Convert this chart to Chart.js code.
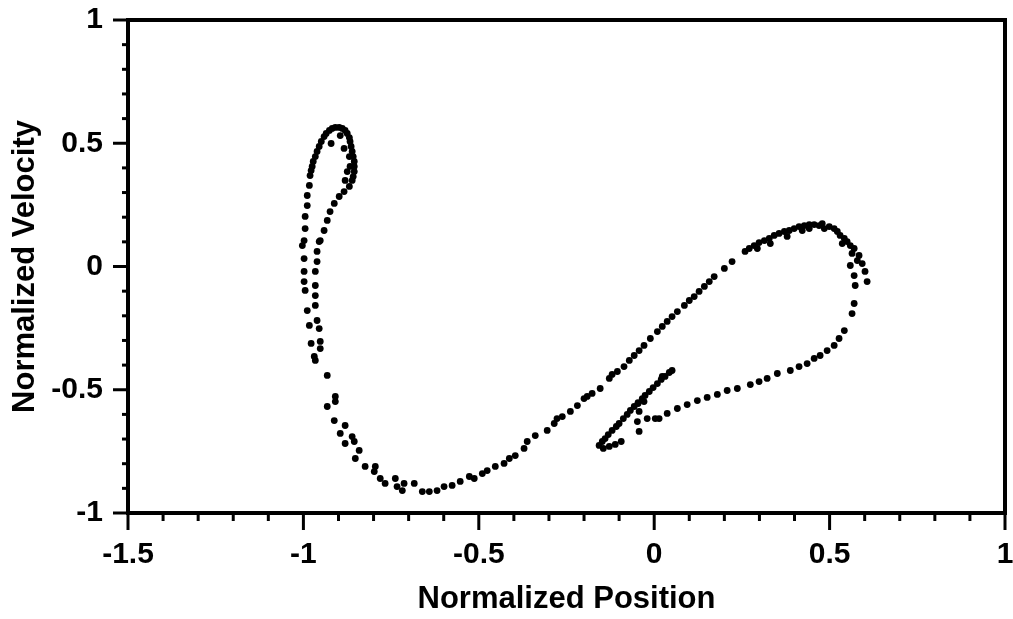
<!DOCTYPE html>
<html lang="en">
  <head>
    <meta charset="UTF-8" />
    <title>Normalized Phase Portrait</title>
    <script src="https://cdn.jsdelivr.net/npm/chart.js"></script>
    <style>
      body { margin: 0; background: #fff; }
      canvas { display: block; }
    </style>
  </head>
  <body>
    <canvas id="phaseChart" width="1013" height="619"></canvas>
    <script>
      // points, grouped by the part of the curve they belong to
      const leftLoopX = [-0.998, -0.995, -0.995, -0.989, -0.989, -0.983, -0.981, -0.975, -0.966, -0.955, -0.941, -0.926, -0.909, -0.889, -0.875, -0.867, -0.861, -0.855, -0.855, -0.861, -0.869, -0.884, -0.898, -0.912, -0.924, -0.932, -0.941, -0.952, -0.869, -0.875, -0.881, -0.895, -0.921, -0.884, -0.867, -0.949, -0.935, -0.918, -0.898, -0.881, -0.869, -0.864, -0.858, -0.855, -0.858, -0.961, -0.972, -0.978];
      const leftLoopY = [0.105, 0.154, 0.203, 0.247, 0.288, 0.329, 0.369, 0.406, 0.446, 0.487, 0.527, 0.552, 0.564, 0.56, 0.54, 0.507, 0.467, 0.426, 0.385, 0.349, 0.325, 0.304, 0.284, 0.256, 0.223, 0.187, 0.146, 0.105, 0.446, 0.385, 0.349, 0.531, 0.499, 0.479, 0.406, 0.507, 0.54, 0.56, 0.564, 0.552, 0.523, 0.487, 0.446, 0.406, 0.365, 0.467, 0.426, 0.389];

      const leftStrandsX = [-1.003, -0.998, -0.998, -0.998, -0.995, -0.989, -0.983, -0.978, -0.969, -0.955, -0.961, -0.961, -0.966, -0.966, -0.966, -0.966, -0.961, -0.955, -0.952, -0.952];
      const leftStrandsY = [0.085, 0.032, -0.02, -0.061, -0.097, -0.179, -0.239, -0.312, -0.365, 0.101, 0.061, 0.02, -0.02, -0.077, -0.118, -0.158, -0.219, -0.252, -0.304, -0.333];

      const bottomArcX = [-0.966, -0.932, -0.909, -0.909, -0.932, -0.912, -0.881, -0.895, -0.861, -0.881, -0.855, -0.841, -0.852, -0.824, -0.795, -0.798, -0.781, -0.767, -0.738, -0.733, -0.713, -0.718, -0.684, -0.661, -0.641, -0.619, -0.599, -0.576, -0.553, -0.527, -0.513, -0.49, -0.476, -0.453, -0.428, -0.413, -0.396, -0.371, -0.362, -0.339, -0.305, -0.285, -0.262, -0.239, -0.219, -0.2, -0.177, -0.154, -0.128, -0.105, -0.086, -0.277, -0.191, -0.12, -0.071];
      const bottomArcY = [-0.381, -0.442, -0.527, -0.548, -0.568, -0.625, -0.645, -0.677, -0.69, -0.718, -0.71, -0.746, -0.779, -0.811, -0.811, -0.832, -0.86, -0.88, -0.86, -0.893, -0.88, -0.909, -0.88, -0.913, -0.913, -0.909, -0.893, -0.888, -0.872, -0.852, -0.86, -0.84, -0.828, -0.811, -0.799, -0.779, -0.767, -0.738, -0.71, -0.686, -0.665, -0.637, -0.609, -0.588, -0.564, -0.536, -0.515, -0.495, -0.454, -0.426, -0.406, -0.617, -0.527, -0.438, -0.381];

      const upperBranchX = [-0.057, -0.029, -0.011, 0.009, 0.037, 0.066, 0.086, 0.114, 0.143, 0.171, 0.2, 0.222, 0.259, 0.285, 0.314, 0.342, 0.371, 0.399, 0.428, 0.456, 0.485, 0.513, 0.53, 0.55, 0.57, 0.584, 0.593, 0.601, 0.607, 0.379, 0.331, 0.294, 0.422, 0.479, 0.442, 0.536, 0.564, 0.579, 0.271, 0.299, 0.328, 0.356, 0.385, 0.413, 0.442, 0.47, 0.499, 0.522, 0.542, 0.559, -0.043, 0.023, 0.051, 0.1, 0.128, 0.157];
      const upperBranchY = [-0.361, -0.32, -0.292, -0.264, -0.223, -0.183, -0.158, -0.122, -0.081, -0.041, -0.008, 0.02, 0.061, 0.085, 0.105, 0.126, 0.142, 0.154, 0.166, 0.17, 0.154, 0.154, 0.126, 0.101, 0.073, 0.045, 0.012, -0.02, -0.061, 0.122, 0.093, 0.073, 0.146, 0.174, 0.154, 0.093, 0.053, 0.024, 0.073, 0.097, 0.114, 0.134, 0.146, 0.162, 0.17, 0.166, 0.162, 0.142, 0.114, 0.085, -0.341, -0.243, -0.203, -0.138, -0.101, -0.061];

      const lowerBranchX = [0.559, 0.57, 0.573, 0.57, 0.564, 0.542, 0.527, 0.513, 0.493, 0.473, 0.456, 0.436, 0.413, 0.388, 0.351, 0.322, 0.299, 0.274, 0.237, 0.208, 0.18, 0.151, 0.123, 0.094, 0.066, 0.037, 0.014];
      const lowerBranchY = [0.004, -0.037, -0.077, -0.15, -0.191, -0.26, -0.292, -0.32, -0.341, -0.361, -0.373, -0.394, -0.406, -0.422, -0.434, -0.454, -0.467, -0.479, -0.495, -0.503, -0.519, -0.531, -0.544, -0.56, -0.576, -0.596, -0.617];

      const spikeX = [0.051, 0.031, 0.009, -0.014, -0.034, -0.057, -0.077, -0.1, -0.12, -0.14, -0.157, -0.145, -0.128, -0.111, -0.094, -0.029, -0.043, -0.048, -0.043, -0.02, 0.003, 0.023, -0.046, 0.043, 0.02, -0.003, -0.026, -0.046, -0.068, -0.088, -0.108, -0.131, -0.148];
      const spikeY = [-0.422, -0.446, -0.475, -0.507, -0.536, -0.568, -0.6, -0.637, -0.665, -0.698, -0.726, -0.738, -0.73, -0.722, -0.71, -0.548, -0.588, -0.629, -0.669, -0.617, -0.617, -0.446, -0.556, -0.43, -0.458, -0.491, -0.523, -0.552, -0.584, -0.617, -0.649, -0.682, -0.71];

      const xMin = -1.5, xMax = 1;
      const yMin = -1, yMax = 1;

      function toPoints(xs, ys) {
        return xs.map((x, i) => ({ x: x, y: ys[i] }));
      }

      function isMajor(v) {
        return Math.abs(v * 2 - Math.round(v * 2)) < 1e-6;
      }

      function tickLabel(v) {
        return isMajor(v) ? String(Math.round(v * 10) / 10) : "";
      }

      const segments = [
        [leftLoopX, leftLoopY],
        [leftStrandsX, leftStrandsY],
        [bottomArcX, bottomArcY],
        [upperBranchX, upperBranchY],
        [lowerBranchX, lowerBranchY],
        [spikeX, spikeY],
      ];

      const labelFont = { family: "Liberation Sans", size: 30, weight: "bold" };
      const titleFont = { family: "Liberation Sans", size: 31, weight: "bold" };

      // box + major/minor tick marks, positions come from the chart's scales
      const framePlugin = {
        id: "frame",
        afterDraw(chart) {
          const { ctx, chartArea } = chart;
          const { left, right, top, bottom } = chartArea;
          const xs = chart.scales.x;
          const ys = chart.scales.y;
          ctx.save();
          ctx.strokeStyle = "#000";
          ctx.lineWidth = 4;
          ctx.strokeRect(left, top, right - left, bottom - top);
          ctx.lineWidth = 3;
          xs.ticks.forEach((t) => {
            const px = xs.getPixelForValue(t.value);
            ctx.beginPath();
            ctx.moveTo(px, bottom);
            ctx.lineTo(px, bottom + (isMajor(t.value) ? 17 : 8));
            ctx.stroke();
          });
          ys.ticks.forEach((t) => {
            const py = ys.getPixelForValue(t.value);
            ctx.beginPath();
            ctx.moveTo(left, py);
            ctx.lineTo(left - (isMajor(t.value) ? 15 : 6), py);
            ctx.stroke();
          });
          ctx.restore();
        },
      };

      new Chart(document.getElementById("phaseChart"), {
        type: "scatter",
        data: {
          datasets: segments.map((s) => ({
            data: toPoints(s[0], s[1]),
            backgroundColor: "#000",
            borderWidth: 0,
            pointRadius: 3.4,
          })),
        },
        options: {
          responsive: false,
          animation: false,
          layout: { padding: { top: 20, right: 8, left: 0, bottom: 0 } },
          plugins: {
            legend: { display: false },
            tooltip: { enabled: false },
          },
          scales: {
            x: {
              type: "linear",
              position: "bottom",
              min: xMin,
              max: xMax,
              grid: { display: false, drawTicks: false },
              border: { display: false },
              ticks: {
                stepSize: 0.1,
                autoSkip: false,
                maxRotation: 0,
                padding: 24,
                color: "#000",
                font: labelFont,
                callback: tickLabel,
              },
              title: {
                display: true,
                text: "Normalized Position",
                color: "#000",
                font: titleFont,
                padding: { top: 0, bottom: 1 },
              },
              afterFit: (scale) => {
                scale.height = 106;
                scale.paddingLeft = 0;
                scale.paddingRight = 0;
              },
            },
            y: {
              type: "linear",
              min: yMin,
              max: yMax,
              grid: { display: false, drawTicks: false },
              border: { display: false },
              ticks: {
                stepSize: 0.1,
                autoSkip: false,
                padding: 25,
                color: "#000",
                font: labelFont,
                callback: tickLabel,
              },
              title: {
                display: true,
                text: "Normalized Velocity",
                color: "#000",
                font: titleFont,
                padding: { top: 7, bottom: 0 },
              },
              afterFit: (scale) => {
                scale.width = 128;
                scale.paddingTop = 0;
                scale.paddingBottom = 0;
              },
            },
          },
        },
        plugins: [framePlugin],
      });
    </script>
  </body>
</html>
